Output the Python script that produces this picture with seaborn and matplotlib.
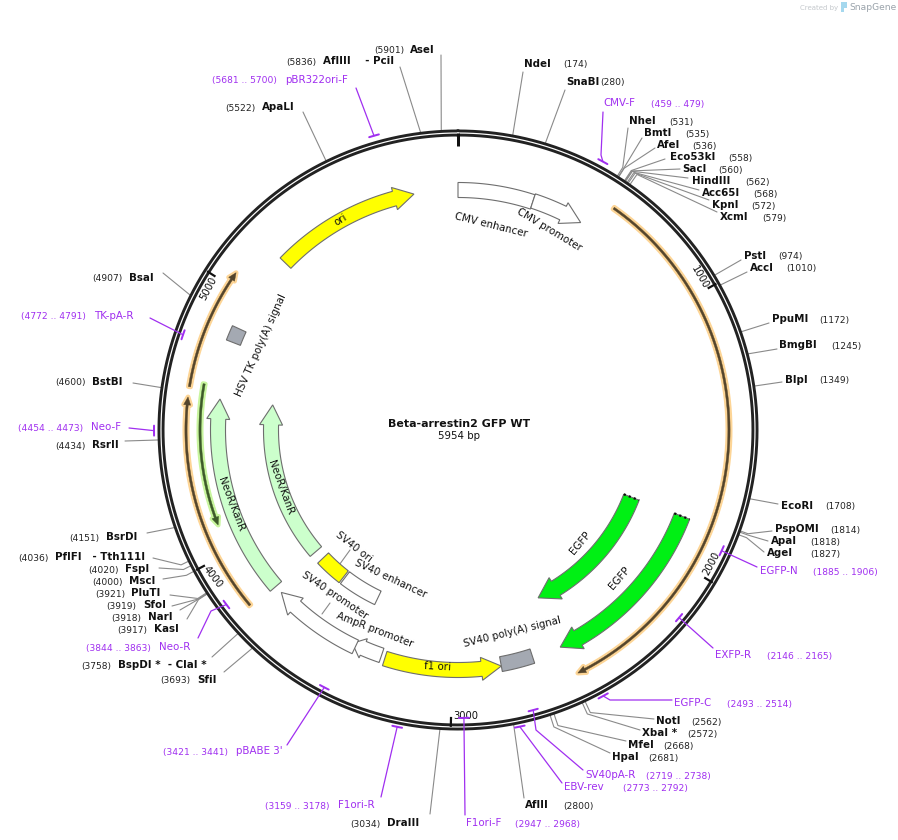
import numpy as np
import pandas as pd
import matplotlib
matplotlib.use("Agg")
import matplotlib.pyplot as plt
import seaborn as sns

sns.set_theme(style="white")
plt.rcParams['font.family'] = ['DejaVu Sans']

TOTAL_BP = 5954
TITLE = "Beta-arrestin2 GFP WT"

# enzyme data
enz_names = ["NdeI","SnaBI","NheI","BmtI","AfeI","Eco53kI","SacI","HindIII","Acc65I","KpnI","XcmI",
             "PstI","AccI","PpuMI","BmgBI","BlpI","EcoRI","PspOMI","ApaI","AgeI",
             "NotI","XbaI *","MfeI","HpaI","AflII","DraIII","SfiI","BspDI *  - ClaI *",
             "KasI","NarI","SfoI","PluTI","MscI","FspI","PflFI   - Tth111I","BsrDI","RsrII","BstBI","BsaI",
             "ApaLI","AflIII    - PciI","AseI"]
enz_bp = [174,280,531,535,536,558,560,562,568,572,579,974,1010,1172,1245,1349,1708,1814,1818,1827,
          2562,2572,2668,2681,2800,3034,3693,3758,3917,3918,3919,3921,4000,4020,4036,4151,4434,4600,4907,
          5522,5836,5901]

# enzyme layout: name x, baseline-centre y, number x, leader end x, y, elbow radius (0 = none)
enz_x = [524,566,629,644,657,670,682,692,702,712,720,744,750,772,779,785,781,775,771,767,
         656,642,628,612,525,387,197,118,154,148,143,131,129,125,55,106,92,92,129,262,323,410]
enz_y = [64,82,121,133,145,157,169,181,193,205,217,256,268,319,345,380,506,529,541,553,
         721,733,745,757,805,823,680,665,629,617,605,593,581,569,557,537,445,382,278,107,61,50]
num_x = [563,600,669,685,692,728,718,745,753,751,762,778,786,819,831,819,825,830,810,810,
         691,687,663,648,563,350,160,81,117,111,106,95,92,88,18,69,55,55,92,225,286,374]
lead_x = [523,565,628,642,655,665,680,688,699,709,717,741,747,769,777,782,778,772,768,764,
          654,640,626,610,524,430,224,212,187,180,172,170,163,159,153,147,125,133,163,303,400,441]
lead_y = [72,90,128,138,148,159,169,178,190,200,212,260,272,323,349,382,504,531,541,552,
          719,730,741,753,798,814,672,657,619,610,606,595,579,568,558,533,441,383,273,112,67,55]
elbow_r = [0,0,310,310,310,312,312,312,312,312,312,0,0,0,0,0,0,308,308,308,
           312,312,312,312,0,0,0,0,310,310,310,310,308,308,308,0,306,0,0,0,0,0]

# primer data
pr_names = ["CMV-F","EGFP-N","EXFP-R","EGFP-C","SV40pA-R","EBV-rev","F1ori-F","F1ori-R","pBABE 3'",
            "Neo-R","Neo-F","TK-pA-R","pBR322ori-F"]
pr_start = [459,1885,2146,2493,2719,2773,2947,3159,3421,3844,4454,4772,5681]
pr_end = [479,1906,2165,2514,2738,2792,2968,3178,3441,3863,4473,4791,5700]

# primer layout
pr_x = [603,760,715,674,585,564,466,338,236,159,91,94,285]
pr_y = [103,571,655,703,775,787,823,805,751,647,427,316,80]
pr_rx = [651,813,767,727,646,623,515,265,163,86,18,21,212]
pr_r = [305,290,290,303,290,303,288,303,290,290,304,291,306]
pr_lead = [[(603,112),(601,155)],[(757,567)],[(713,648)],[(672,700),(610,700)],[(583,770),(536,730)],
           [(562,783)],[(465,815)],[(381,797)],[(287,745)],[(198,638),(211,611)],[(129,428)],[(150,318)],[(356,88)]]

# backbone ticks
tick_bp = [0,1000,2000,3000,4000,5000]
tick_lab = ["","1000","2000","3000","4000","5000"]
tick_lab_xy = [(0,0),(700,277),(711,563),(466,716),(213,577),(208,288)]
tick_lab_rot = [0,-60,62,0,-52,62]

# features: name, start bp, end bp, radius, colour
arrow_feats = [
    ("CMV promoter",300,506,241,"#ffffff"),
    ("EGFP outer",1837,2560,240,"#00f014"),
    ("EGFP inner",1839,2555,186,"#00f014"),
    ("f1 ori",3271,2805,240,"#ffff00"),
    ("AmpR promoter",3287,3413,238,"#ffffff"),
    ("SV40 promoter",3396,3761,240,"#ffffff"),
    ("NeoR outer",3793,4588,240,"#ccffcc"),
    ("NeoR inner",3795,4593,187,"#ccffcc"),
    ("ori",5194,5779,240,"#ffff00"),
]
box_feats = [
    ("CMV enhancer",0,300,240,"#ffffff"),
    ("SV40 poly(A)",2676,2805,238,"#a4a9b2"),
    ("SV40 enhancer",3399,3596,186,"#ffffff"),
    ("SV40 ori",3604,3746,186,"#ffff00"),
    ("HSV TK",4817,4876,241,"#a4a9b2"),
]
thin_feats = [
    ("EGFP primer span",580,2543,271,"#fdd596","#54452c"),
    ("Neo span low",3802,4581,272,"#fdd596","#54452c"),
    ("TK span",4617,5050,272,"#fdd596","#54452c"),
    ("Neo span",4636,4108,258,"#c8f59e","#3d5a2a"),
]

# feature labels
lab_txt = ["CMV enhancer","CMV promoter","ori","EGFP","EGFP","SV40 poly(A) signal","f1 ori","AmpR promoter",
           "SV40 promoter","SV40 enhancer","SV40 ori","NeoR/KanR","NeoR/KanR","HSV TK poly(A) signal"]
lab_xy = [(491,225),(549,230),(340,220),(580,543),(619,578),(512,632),(438,667),(375,630),
          (335,595),(391,579),(354,547),(231,504),(281,488),(261,345)]
lab_rot = [-14,-31,32,50,49,14,-3,-21,-34,-25,-38,-69,-70,66]

CX, CY = 458.0, 430.0
PX = 0.72  # points per pixel at 100 dpi
LEADER = "#8a8a8a"
PURPLE = "#a02ff0"


def bp_angle(bp):
    return np.asarray(bp, dtype=float) / TOTAL_BP * 2 * np.pi


def polar(bp, r):
    a = bp_angle(bp)
    return CX + r * np.sin(a), CY - r * np.cos(a)


fig = plt.figure(figsize=(8.98, 8.40), dpi=100)
ax = fig.add_axes([0, 0, 1, 1])


def arc_line(b0, b1, r, color, lw, zorder=3):
    bps = np.linspace(b0, b1, max(int(abs(b1 - b0) / 4), 2))
    x, y = polar(bps, r)
    df = pd.DataFrame({"x": x, "y": y})
    sns.lineplot(data=df, x="x", y="y", sort=False, estimator=None, color=color,
                 linewidth=lw * PX, ax=ax, zorder=zorder)


def box_poly(b0, b1, r, w):
    bps = np.linspace(b0, b1, 60)
    xo, yo = polar(bps, r + w / 2)
    xi, yi = polar(bps[::-1], r - w / 2)
    return np.r_[xo, xi], np.r_[yo, yi]


def arrow_poly(b0, b1, r, w, hw, hl):
    sign = np.sign(b1 - b0)
    dbp = hl / r / (2 * np.pi) * TOTAL_BP
    base = b1 - sign * dbp
    bps = np.linspace(b0, base, 80)
    xo, yo = polar(bps, r + w / 2)
    xi, yi = polar(bps[::-1], r - w / 2)
    hx, hy = polar(np.array([base, b1, base]), np.array([r + hw, r, r - hw]))
    return np.r_[xo, hx, xi], np.r_[yo, hy, yi]


# backbone
arc_line(0, TOTAL_BP, 297, "#222222", 7.0, zorder=5)
arc_line(0, TOTAL_BP, 297, "#ffffff", 1.2, zorder=6)

# ticks
for b, lab, xy, rot in zip(tick_bp, tick_lab, tick_lab_xy, tick_lab_rot):
    x, y = polar(np.array([b, b]), np.array([297, 284 if b == 0 else 287]))
    ax.plot(x, y, color="#111111", lw=(3 if b == 0 else 2.2) * PX, zorder=7, solid_capstyle="butt")
    if lab:
        ax.text(xy[0], xy[1], lab, fontsize=7.2, rotation=rot, ha="center", va="center",
                rotation_mode="anchor", color="#111111")

# features
for name, b0, b1, r, col in box_feats:
    x, y = box_poly(b0, b1, r, 15)
    ax.fill(x, y, facecolor=col, edgecolor="#6e6e6e", lw=0.8, zorder=4)
for name, b0, b1, r, col in arrow_feats:
    w, hw, hl = 15, 11.5, 20
    if name.startswith("EGFP"):
        w, hw, hl = 16.5, 12.5, 20
    if name == "AmpR promoter":
        hw, hl = 10.5, 12
    x, y = arrow_poly(b0, b1, r, w, hw, hl)
    ax.fill(x, y, facecolor=col, edgecolor="#6e6e6e", lw=0.8, zorder=4)
    if name.startswith("EGFP"):
        xd, yd = polar(np.array([b0, b0]), np.array([r - w / 2, r + w / 2]))
        ax.plot(xd, yd, color="#111111", lw=1.6, ls=(0, (1, 1.4)), zorder=5)

for name, b0, b1, r, halo, dark in thin_feats:
    x, y = arrow_poly(b0, b1, r, 2.2, 3.5, 8)
    ax.fill(x, y, facecolor=halo, edgecolor=halo, lw=4.8 * PX, zorder=3, joinstyle="round")
    ax.fill(x, y, facecolor=dark, edgecolor=dark, lw=0.3, zorder=3.5)

# feature labels
for t, xy, rot in zip(lab_txt, lab_xy, lab_rot):
    ax.text(xy[0], xy[1], t, fontsize=7.4, rotation=rot, ha="center", va="center",
            rotation_mode="anchor", color="#111111", zorder=8)

# feature label leaders
for seg in [[(350, 550), (337, 568)], [(330, 603), (322, 614)]]:
    ax.plot(*zip(*seg), color=LEADER, lw=0.8, zorder=3)

# enzymes
for n, b, x, y, nx, lx, ly, er in zip(enz_names, enz_bp, enz_x, enz_y, num_x, lead_x, lead_y, elbow_r):
    ax.text(x, y, n, fontsize=7.4, fontweight="bold", ha="left", va="center", color="#111111")
    ax.text(nx, y + 1, f"({b})", fontsize=6.6, ha="left", va="center", color="#222222")
    px0, py0 = polar(b, 299)
    pts = [(px0, py0)]
    if er:
        pts.append(polar(b, er))
    pts.append((lx, ly))
    ax.plot(*zip(*pts), color=LEADER, lw=0.8, zorder=2)

# primers
for n, s, e, x, y, rx, r, lead in zip(pr_names, pr_start, pr_end, pr_x, pr_y, pr_rx, pr_r, pr_lead):
    ax.text(x, y, n, fontsize=7.4, ha="left", va="center", color=PURPLE, zorder=8)
    ax.text(rx, y + 1, f"({s} .. {e})", fontsize=6.6, ha="left", va="center", color=PURPLE, zorder=8)
    arc_line(s - 6, e + 6, r, PURPLE, 2.0, zorder=8)
    pts = list(lead) + [polar((s + e) / 2, r)]
    ax.plot(*zip(*pts), color=PURPLE, lw=0.9, zorder=8)

# centre title
ax.text(459, 424, TITLE, fontsize=7.9, fontweight="bold", ha="center", va="center", color="#111111")
ax.text(458.5, 436, f"{TOTAL_BP} bp", fontsize=7.4, ha="center", va="center", color="#111111")

# watermark
ax.text(800, 8, "Created by", fontsize=5, ha="left", va="center", color="#c4c8cc")
ax.text(849, 7.5, "SnapGene", fontsize=6.6, ha="left", va="center", color="#9aa3ab")
ax.fill([841, 847, 847, 844, 844, 841], [2, 2, 8, 8, 12, 12], color="#a5d8ee", lw=0)

ax.set_xlim(0, 898)
ax.set_ylim(840, 0)
ax.set_xlabel("")
ax.set_ylabel("")
ax.axis("off")
leg = ax.get_legend()
if leg:
    leg.remove()
fig.savefig("out.png", dpi=100, facecolor="white")
